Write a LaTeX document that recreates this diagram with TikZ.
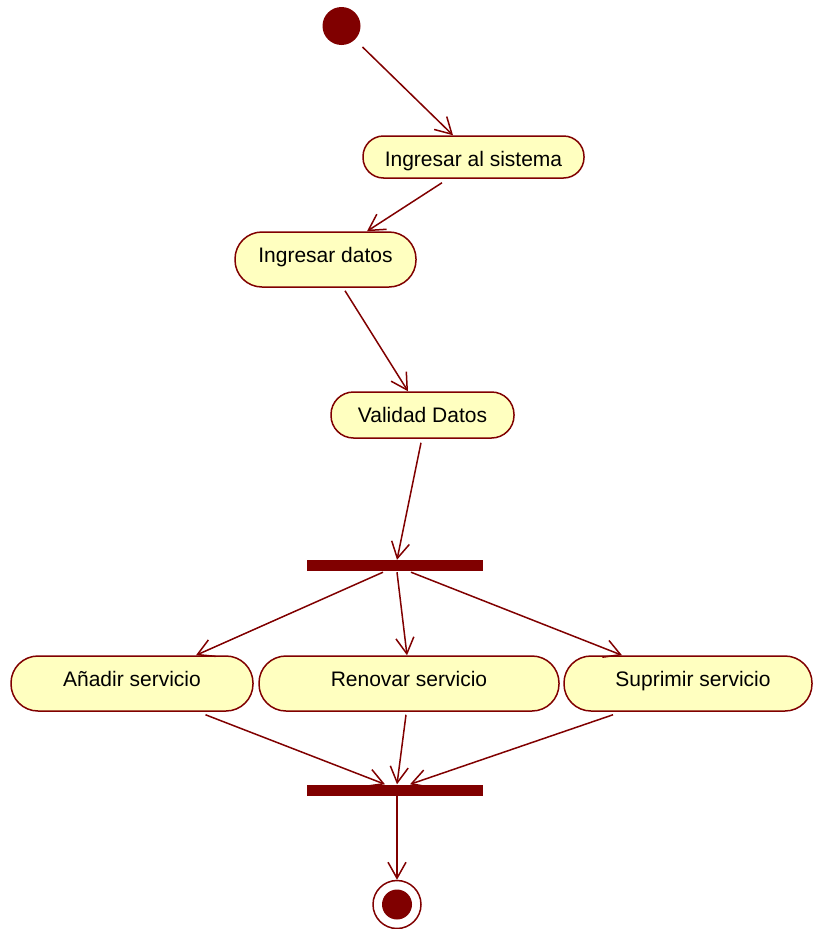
\documentclass[tikz,border=0pt]{standalone}
\usepackage{fontspec}
\setmainfont{Liberation Sans}
\usetikzlibrary{arrows.meta,calc}
\definecolor{umlred}{RGB}{128,0,0}
\definecolor{umlfill}{RGB}{255,255,192}
\begin{document}
\begin{tikzpicture}[x=1pt,y=-1pt,
  actbox/.style={draw=umlred,fill=umlfill,line width=1.5pt,inner sep=0pt,
    text height=15pt,text depth=0pt,
    font=\fontsize{21}{25}\selectfont},
  bar/.style={fill=umlred,inner sep=0pt,minimum width=176pt,minimum height=11pt},
  flow/.style={draw=umlred,line width=1.5pt,-{Straight Barb[length=16pt,width=18pt]}}]
\useasboundingbox (0,0) rectangle (812,929);

% initial and final states
\node[circle,fill=umlred,minimum size=38pt,inner sep=0pt] (start) at (341.5,26) {};
\node[circle,draw=umlred,line width=1.5pt,fill=white,minimum size=48pt,inner sep=0pt] (final) at (397,904.5) {};
\fill[umlred] (final.center) circle (15pt);

% actions
\node[actbox,rounded corners=20.5pt,minimum width=221pt,minimum height=42pt] (sis) at (473.5,157) {\raisebox{-2pt}{Ingresar al sistema}};
\node[actbox,rounded corners=27pt,minimum width=181pt,minimum height=55pt] (datos) at (325.5,259.5) {\raisebox{4.5pt}{Ingresar datos}};
\node[actbox,rounded corners=22.5pt,minimum width=183pt,minimum height=46pt] (val) at (422.5,415) {Validad Datos};

% fork / join bars
\node[bar] (fork) at (395,565.5) {};
\node[bar] (join) at (395,790) {};

% parallel actions
\node[actbox,rounded corners=27pt,minimum width=242pt,minimum height=55pt] (add) at (132,683.5) {\raisebox{4.5pt}{Añadir servicio}};
\node[actbox,rounded corners=27pt,minimum width=300pt,minimum height=55pt] (ren) at (409,683.5) {\raisebox{4.5pt}{Renovar servicio}};
\node[actbox,rounded corners=27pt,minimum width=248pt,minimum height=55pt] (sup) at (688,683.5) {\raisebox{4.5pt}{\hspace{10pt}Suprimir servicio}};

% transitions
\draw[flow] ($(start.center)+(21,21)$) -- ($(sis.north)+(-20.5,0)$);
\draw[flow] ($(sis.south)+(-31.5,4)$) -- ($(datos.north)+(41.5,0)$);
\draw[flow] ($(datos.south)+(19.5,3)$) -- ($(val.north)+(-14.5,0)$);
\draw[flow] ($(val.south)+(-1.5,4)$) -- ($(fork.north)+(2,0)$);

\draw[flow] ($(fork.south)+(-12,1)$) -- ($(add.north)+(64,0)$);
\draw[flow] ($(fork.south)+(2,1)$) -- ($(ren.north)+(-2,0)$);
\draw[flow] ($(fork.south)+(16,1)$) -- ($(sup.north)+(-66,0)$);

\draw[flow] ($(add.south)+(73.5,3)$) -- ($(join.north)+(-10,0)$);
\draw[flow] ($(ren.south)+(-3,3)$) -- ($(join.north)+(2,0)$);
\draw[flow] ($(sup.south)+(-75,3)$) -- ($(join.north)+(15,0)$);

\draw[flow] ($(join.south)+(2,0)$) -- (final.north);
\end{tikzpicture}
\end{document}
